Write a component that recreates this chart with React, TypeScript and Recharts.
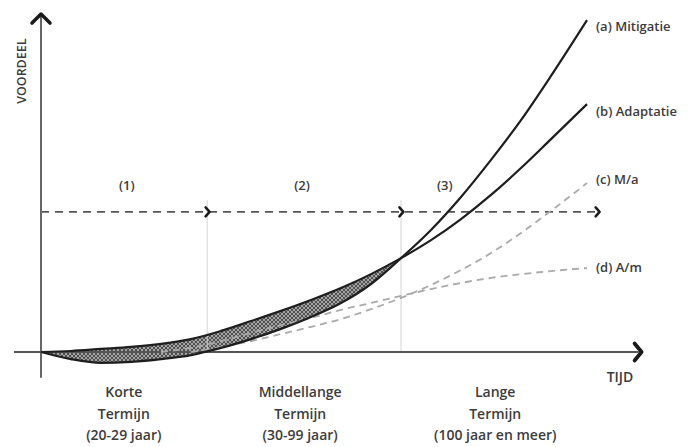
import { ComposedChart, Line, Area, XAxis, YAxis, ReferenceLine, ReferenceDot } from 'recharts';

// tijd (arbitrary units) and voordeel per scenario
const tijd = [0, 5, 10, 15, 20, 25, 30, 35, 40, 45, 50, 55, 60, 65, 70, 75, 80, 85, 91];
const mitigatie = [0, -2.1, -3.2, -2.9, -2.1, -0.9, 1.2, 3.8, 6.8, 10.3, 14.4, 20.0, 27.6, 35.9, 45.6, 56.5, 68.2, 81.2, 97.6];
const adaptatie = [0, 0.3, 0.9, 1.5, 2.4, 3.8, 6.2, 9.1, 12.1, 15.3, 18.8, 22.9, 27.6, 32.9, 39.1, 46.2, 54.1, 62.6, 72.9];
const mitigatieA = [null, null, null, null, null, 0, 1.5, 3.2, 5.3, 7.4, 9.7, 12.6, 15.9, 19.7, 24.1, 29.1, 35.0, 41.5, 49.7];
const adaptatieM = [null, null, null, null, 0, 1.2, 3.2, 5.6, 7.9, 10.0, 12.4, 14.4, 16.5, 18.5, 20.3, 21.8, 22.9, 23.8, 24.7];

const reeksNamen = ['(a) Mitigatie', '(b) Adaptatie', '(c) M/a', '(d) A/m'];
const fasen = ['(1)', '(2)', '(3)'];
const faseMidden = [14.3, 43.5, 67.3];
const termijnen = [
  ['Korte', 'Termijn', '(20-29 jaar)'],
  ['Middellange', 'Termijn', '(30-99 jaar)'],
  ['Lange', 'Termijn', '(100 jaar en meer)'],
];
const termijnMidden = [13.8, 43.2, 75.7];
const drempel = 41.2;
const drempelEinde = 92.7;
const grenzen = [27.7, 60];
const grensTop = 44.7;
const kruispunt = 60; // a and b meet here, hatched band ends

const rows = tijd.map((t, i) => ({
  t,
  a: mitigatie[i],
  b: adaptatie[i],
  c: mitigatieA[i],
  d: adaptatieM[i],
  band: t <= kruispunt ? [mitigatie[i], adaptatie[i]] : null,
}));

const font = '"Open Sans", sans-serif';
const textColor = '#3c3c3c';

const chevronRight = (w, h, sw) => (p) => (
  <path
    d={`M${p.cx - w},${p.cy - h} L${p.cx},${p.cy} L${p.cx - w},${p.cy + h}`}
    fill="none"
    stroke="#1a1a1a"
    strokeWidth={sw}
    strokeLinejoin="round"
    strokeLinecap="round"
  />
);

const chevronUp = (p) => (
  <path
    d={`M${p.cx - 9},${p.cy + 9} L${p.cx},${p.cy} L${p.cx + 9},${p.cy + 9}`}
    fill="none"
    stroke="#1a1a1a"
    strokeWidth={3.5}
    strokeLinejoin="round"
    strokeLinecap="round"
  />
);

const textAt = (value, anchor = 'middle', dx = 0, dy = 0, size = 14) => (p) => (
  <text
    x={p.cx + dx}
    y={p.cy + dy}
    textAnchor={anchor}
    dominantBaseline="central"
    fontFamily={font}
    fontSize={size}
    fontWeight={600}
    fill={textColor}
  >
    {value}
  </text>
);

const multiLine = (lines) => (p) => (
  <text x={p.cx} y={p.cy} textAnchor="middle" fontFamily={font} fontSize={14} fontWeight={600} fill={textColor}>
    {lines.map((l, i) => (
      <tspan key={i} x={p.cx} dy={i === 0 ? 5 : 21.5}>
        {l}
      </tspan>
    ))}
  </text>
);

const verticalLabel = (p) => (
  <text
    x={p.cx}
    y={p.cy}
    transform={`rotate(-90 ${p.cx} ${p.cy})`}
    textAnchor="middle"
    dominantBaseline="central"
    fontFamily={font}
    fontSize={12.5}
    fontWeight={600}
    fill={textColor}
  >
    VOORDEEL
  </text>
);

const last = (arr) => arr[arr.length - 1];
const tEnd = last(tijd);
const labelOffsets = [6, 7, -4, -1];
const seriesEnds = [last(mitigatie), last(adaptatie), last(mitigatieA), last(adaptatieM)];

export default function App() {
  return (
    <>
      <style>{'body{margin:0}'}</style>
      <ComposedChart
        width={700}
        height={447}
        data={rows}
        margin={{ top: 13.7, right: 59, bottom: 67.8, left: 14 }}
      >
        <defs>
          <pattern id="hatch" width="4" height="4" patternUnits="userSpaceOnUse">
            <rect width="4" height="4" fill="#505050" />
            <path d="M0,4 L4,0 M0,0 L4,4" stroke="#c8c8c8" strokeWidth="0.7" />
          </pattern>
        </defs>
        <XAxis type="number" dataKey="t" domain={[-4.5, 100]} hide allowDataOverflow />
        <YAxis type="number" domain={[-8, 99.5]} hide allowDataOverflow />

        {grenzen.map((g) => (
          <ReferenceLine
            key={g}
            segment={[{ x: g, y: 0 }, { x: g, y: grensTop }]}
            stroke="#d4d4d4"
            strokeWidth={1}
            ifOverflow="visible"
          />
        ))}
        <ReferenceLine
          segment={[{ x: 0, y: drempel }, { x: drempelEinde, y: drempel }]}
          stroke="#555"
          strokeWidth={1.8}
          strokeDasharray="8 6"
          ifOverflow="visible"
        />
        {[...grenzen, drempelEinde].map((g) => (
          <ReferenceDot key={'arr' + g} x={g + 0.4} y={drempel} ifOverflow="visible" shape={chevronRight(4, 4.5, 2.5)} />
        ))}

        <ReferenceLine segment={[{ x: 0, y: -7.6 }, { x: 0, y: 99 }]} stroke="#666" strokeWidth={2} ifOverflow="visible" />
        <ReferenceLine segment={[{ x: -4.5, y: 0 }, { x: 99.6, y: 0 }]} stroke="#555" strokeWidth={2} ifOverflow="visible" />
        <ReferenceDot x={100.1} y={0} ifOverflow="visible" shape={chevronRight(7, 8.5, 3.8)} />
        <ReferenceDot x={0} y={99.4} ifOverflow="visible" shape={chevronUp} />

        <Line type="monotone" dataKey="c" stroke="#aaa" strokeWidth={1.8} strokeDasharray="7 5" dot={false} activeDot={false} isAnimationActive={false} />
        <Line type="monotone" dataKey="d" stroke="#aaa" strokeWidth={1.8} strokeDasharray="7 5" dot={false} activeDot={false} isAnimationActive={false} />
        <Area type="monotone" dataKey="band" fill="url(#hatch)" fillOpacity={1} stroke="none" isAnimationActive={false} />
        <Line type="monotone" dataKey="a" stroke="#1e1e1e" strokeWidth={2.2} dot={false} activeDot={false} isAnimationActive={false} />
        <Line type="monotone" dataKey="b" stroke="#1e1e1e" strokeWidth={2.2} dot={false} activeDot={false} isAnimationActive={false} />

        {fasen.map((f, i) => (
          <ReferenceDot key={f} x={faseMidden[i]} y={49} ifOverflow="visible" shape={textAt(f, 'middle', 0, 0, 13)} />
        ))}
        {reeksNamen.map((n, i) => (
          <ReferenceDot key={n} x={tEnd} y={seriesEnds[i]} ifOverflow="visible" shape={textAt(n, 'start', 9, labelOffsets[i], 13)} />
        ))}
        {termijnen.map((lines, i) => (
          <ReferenceDot key={lines[0]} x={termijnMidden[i]} y={-11.8} ifOverflow="visible" shape={multiLine(lines)} />
        ))}
        <ReferenceDot x={96.5} y={-7.1} ifOverflow="visible" shape={textAt('TIJD', 'middle', 0, 0, 14)} />
        <ReferenceDot x={-3.2} y={82.6} ifOverflow="visible" shape={verticalLabel} />
      </ComposedChart>
    </>
  );
}
